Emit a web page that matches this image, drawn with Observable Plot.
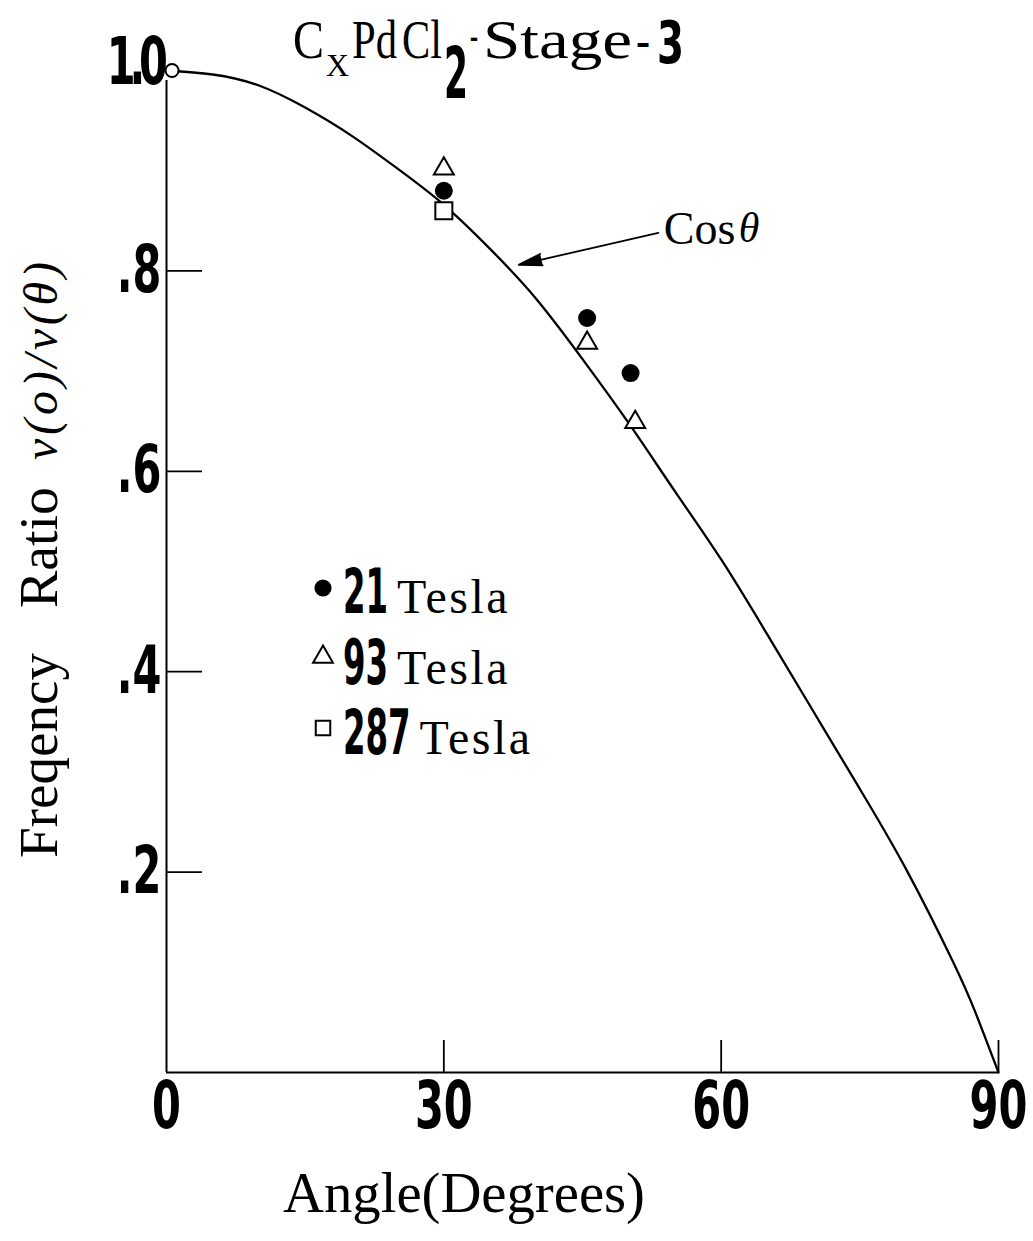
<!DOCTYPE html>
<html><head><meta charset="utf-8">
<script src="https://cdn.jsdelivr.net/npm/d3@7"></script>
<script src="https://cdn.jsdelivr.net/npm/@observablehq/plot@0.6"></script>
<style>
body{margin:0;background:#fff}
#chart{position:relative;width:1033px;height:1241px}
</style>
</head><body><div id="chart"></div>
<script>
// ---- data ----
const curveAngle = [0, 5, 10, 15, 20, 25, 30, 35, 40, 45, 50, 55, 60, 65, 70, 75, 80, 85, 87.5, 90];
const curveRatio = [1.0, 0.996, 0.985, 0.963, 0.935, 0.902, 0.866, 0.822, 0.772, 0.712, 0.648, 0.58, 0.512, 0.437, 0.36, 0.283, 0.203, 0.112, 0.06, 0.0];

const seriesNames = ["21", "93", "287"];
const t21Angle = [30, 45.5, 50.2];
const t21Ratio = [0.88, 0.753, 0.698];
const t93Angle = [30, 45.5, 50.7];
const t93Ratio = [0.902, 0.728, 0.649];
const t287Angle = [30];
const t287Ratio = [0.86];
const originAngle = [0.6];
const originRatio = [1.0];

const xTicks = [0, 30, 60, 90];
const xTickLabels = ["0", "30", "60", "90"];
const yTicks = [0.2, 0.4, 0.6, 0.8, 1.0];
const yTickLabels = [".2", ".4", ".6", ".8", "1.0"];
const yInnerTicks = [0.2, 0.4, 0.6, 0.8];
const xInnerTicks = [30, 60, 90];

const noteFrom = [53.2, 0.838];
const noteTo = [38.1, 0.806];
const noteTextPos = [53.8, 0.842];
const noteThetaPos = [61.9, 0.842];

// ---- build tables ----
const curve = curveAngle.map((a, i) => ({angle: a, ratio: curveRatio[i]}));
const pts = (A, R) => A.map((a, i) => ({angle: a, ratio: R[i]}));
const s21 = pts(t21Angle, t21Ratio);
const s93 = pts(t93Angle, t93Ratio);
const s287 = pts(t287Angle, t287Ratio);
const origin = pts(originAngle, originRatio);

const condensed = "'Liberation Sans Narrow','DejaVu Sans Condensed','Arial Narrow',sans-serif";
const serif = "'Liberation Serif','DejaVu Serif',serif";

const W = 1033, H = 1241, ML = 166, MR = 35, MT = 70, MB = 169;
const FW = W - ML - MR, FH = H - MT - MB;

const plot = Plot.plot({
  width: W, height: H,
  marginLeft: ML, marginRight: MR, marginTop: MT, marginBottom: MB,
  x: {domain: [0, 90], axis: null},
  y: {domain: [0, 1], axis: null},
  style: {background: "white", color: "black", overflow: "visible"},
  marks: [
    Plot.ruleX([0], {y1: 0, y2: 0.99, stroke: "black", strokeWidth: 2}),
    Plot.ruleY([0], {x1: 0, x2: 90, stroke: "black", strokeWidth: 2}),
    Plot.tickY(yInnerTicks, {y: d => d, insetRight: FW - 36, stroke: "black", strokeWidth: 1.8}),
    Plot.tickX(xInnerTicks, {x: d => d, insetTop: FH - 32, stroke: "black", strokeWidth: 1.8}),
    Plot.text(yTicks, {y: d => d, text: (d, i) => yTickLabels[i], frameAnchor: "left", textAnchor: "end", dx: -5,
      fontFamily: condensed, fontWeight: "bold", fontSize: 66, ariaDescription: "ylabels"}),
    Plot.text(xTicks, {x: d => d, text: (d, i) => xTickLabels[i], frameAnchor: "bottom", lineAnchor: "middle", dy: 34,
      fontFamily: condensed, fontWeight: "bold", fontSize: 66, ariaDescription: "xlabels"}),
    Plot.line(curve, {x: "angle", y: "ratio", curve: "natural", stroke: "black", strokeWidth: 2.3}),
    Plot.dot(origin, {x: "angle", y: "ratio", r: 6.5, stroke: "black", fill: "white", strokeWidth: 2}),
    Plot.dot(s21, {x: "angle", y: "ratio", r: 9, fill: "black", stroke: "none"}),
    Plot.dot(s93, {x: "angle", y: "ratio", symbol: "triangle", r: 7.4, fill: "white", stroke: "black", strokeWidth: 2}),
    Plot.dot(s287, {x: "angle", y: "ratio", symbol: "square", r: 9.6, fill: "white", stroke: "black", strokeWidth: 2}),
    Plot.arrow([0], {x1: () => noteFrom[0], y1: () => noteFrom[1], x2: () => noteTo[0], y2: () => noteTo[1],
      stroke: "black", strokeWidth: 1.8, headLength: 20, headAngle: 28, ariaDescription: "note-arrow"}),
    Plot.text([0], {x: () => noteTextPos[0], y: () => noteTextPos[1], text: () => "Cos", textAnchor: "start",
      fontFamily: serif, fontSize: 46}),
    Plot.text([0], {x: () => noteThetaPos[0], y: () => noteThetaPos[1], text: () => "θ", textAnchor: "start",
      fontFamily: serif, fontStyle: "italic", fontSize: 42})
  ]
});

document.getElementById("chart").appendChild(plot);
const svg = d3.select(plot);

// condense bold digits horizontally (keeps Plot's own x/y/dy attributes)
function condense(sel, k) {
  sel.each(function() {
    const t = this.getAttribute("transform") || "";
    this.setAttribute("transform", `${t} scale(${k},1)`);
  });
}
condense(svg.selectAll('g[aria-description="ylabels"] text'), 0.7);
condense(svg.selectAll('g[aria-description="xlabels"] text'), 0.7);
svg.selectAll('g[aria-description="ylabels"] text').filter(function() { return this.textContent === "1.0"; })
  .attr("letter-spacing", "-9px").attr("y", "0.2em");
// filled arrow head
svg.selectAll('g[aria-description="note-arrow"] path').attr("fill", "black").attr("stroke-linejoin", "miter");

// ---- title ----
const TB = 58;
const title = svg.append("g").attr("text-anchor", "start").attr("fill", "black");
const tpiece = (txt, x, y, opts = {}) => {
  const t = title.append("text").attr("x", x).attr("y", y)
    .attr("font-family", opts.bold ? condensed : serif)
    .attr("font-weight", opts.bold ? "bold" : "normal")
    .attr("font-size", opts.size || 54).text(txt);
  if (opts.len) t.attr("textLength", opts.len).attr("lengthAdjust", opts.glyphs ? "spacingAndGlyphs" : "spacing");
  return t;
};
tpiece("C", 293, TB, {len: 31, glyphs: true});
tpiece("X", 326, TB + 18, {size: 32, len: 23, glyphs: true});
tpiece("Pd", 352, TB, {len: 45, glyphs: true});
tpiece("Cl", 402, TB, {len: 40, glyphs: true});
tpiece("2", 444, TB + 40, {bold: true, size: 72, len: 24, glyphs: true});
tpiece("-", 470, TB - 8, {size: 44, len: 8, glyphs: true});
tpiece("Stage", 483, TB, {len: 149, glyphs: true});
tpiece("-", 636, TB, {len: 14, glyphs: true});
tpiece("3", 657, TB + 5, {bold: true, size: 58, len: 27, glyphs: true});

// ---- y label ----
const yl = svg.append("g").attr("transform", "translate(57,858) rotate(-90)")
  .attr("text-anchor", "start").attr("fill", "black").attr("font-family", serif);
yl.append("text").attr("x", 0).attr("font-size", 54).attr("textLength", 205).attr("lengthAdjust", "spacingAndGlyphs").text("Freqency");
yl.append("text").attr("x", 250).attr("font-size", 54).attr("textLength", 121).attr("lengthAdjust", "spacingAndGlyphs").text("Ratio");
yl.append("text").attr("x", 398).attr("font-size", 48).attr("font-style", "italic")
  .attr("textLength", 198).attr("lengthAdjust", "spacing").text("ν(o)/ν(θ)");

// ---- x label ----
svg.append("text").attr("x", 283).attr("y", 1212).attr("text-anchor", "start")
  .attr("font-family", serif).attr("font-size", 56).attr("fill", "black")
  .attr("textLength", 362).attr("lengthAdjust", "spacingAndGlyphs").text("Angle(Degrees)");

// ---- legend ----
const legendRows = [
  {sym: d3.symbolCircle, fill: "black", num: seriesNames[0], y: 613, sy: 588, size: 230},
  {sym: d3.symbolTriangle, fill: "white", num: seriesNames[1], y: 684, sy: 657, size: 170},
  {sym: d3.symbolSquare, fill: "white", num: seriesNames[2], y: 754, sy: 728, size: 210}
];
const lg = svg.append("g").attr("text-anchor", "start").attr("fill", "black");
legendRows.forEach((r, i) => {
  lg.append("path").attr("d", d3.symbol(r.sym, r.size)())
    .attr("transform", `translate(323,${r.sy})`)
    .attr("fill", r.fill).attr("stroke", "black").attr("stroke-width", i === 0 ? 0 : 2);
  const k = 0.58;
  const t = lg.append("text").attr("transform", `translate(343,${r.y}) scale(${k},1)`)
    .attr("font-family", condensed).attr("font-weight", "bold").attr("font-size", 62)
    .text(r.num);
  const numW = t.node().getBBox().width * k;
  lg.append("text").attr("x", 343 + numW + 9).attr("y", r.y)
    .attr("font-family", serif).attr("font-size", 48).attr("letter-spacing", "2.5px").text("Tesla");
});
</script>
</body></html>
